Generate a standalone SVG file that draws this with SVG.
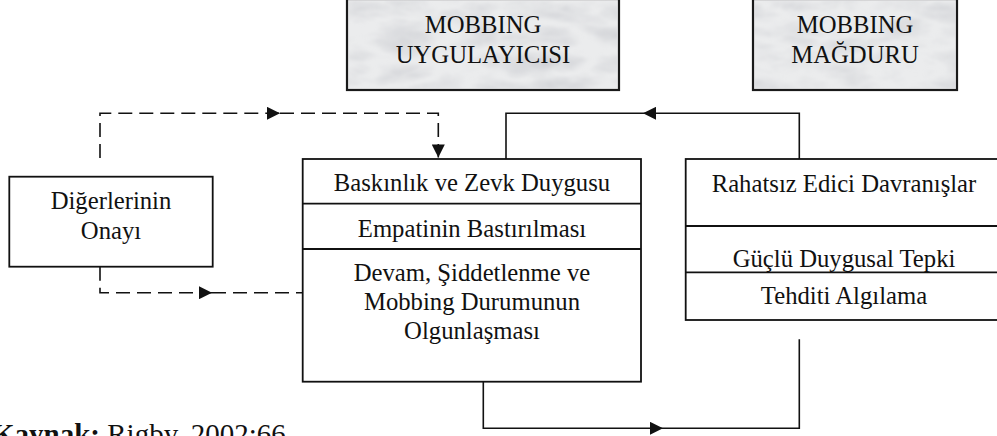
<svg xmlns="http://www.w3.org/2000/svg" width="997" height="436" viewBox="0 0 997 436">
  <style>
    .t { font-family: "Liberation Serif", "Times New Roman", serif; font-size: 24.7px; fill: #111; text-anchor: middle; }
    .box { fill: #fff; stroke: #111; stroke-width: 1.8; }
    .sep { stroke: #111; stroke-width: 1.8; }
    .marble { fill: #ebeced; stroke: #1a1a1a; stroke-width: 2.2; }
    .solid { fill: none; stroke: #111; stroke-width: 1.6; }
    .dash { fill: none; stroke: #111; stroke-width: 1.6; stroke-dasharray: 14 7; }
    .src { font-family: "Liberation Serif", "Times New Roman", serif; font-size: 29px; fill: #111; }
  </style>
  <defs>
    <marker id="arrow" viewBox="0 0 10 10" refX="10" refY="5" markerWidth="14" markerHeight="13" markerUnits="userSpaceOnUse" orient="auto">
      <path d="M0,0 L10,5 L0,10 z" fill="#111"/>
    </marker>
    <!-- soft grey veins for the stone-textured header panels -->
    <filter id="veins" x="0" y="0" width="100%" height="100%">
      <feTurbulence type="turbulence" baseFrequency="0.016 0.04" numOctaves="4" seed="11" result="n"/>
      <feColorMatrix in="n" type="matrix" values="0 0 0 0 0.62  0 0 0 0 0.63  0 0 0 0 0.66  1.3 0 0 0 -0.22"/>
      <feGaussianBlur stdDeviation="0.9"/>
    </filter>
  </defs>

  <!-- header labels -->
  <g id="uygulayici">
    <rect class="marble" x="347" y="-1" width="272" height="91"/>
    <rect x="348.2" y="0" width="269.6" height="88.8" filter="url(#veins)"/>
    <text class="t" x="483" y="33">MOBBING</text>
    <text class="t" x="483" y="63">UYGULAYICISI</text>
  </g>
  <g id="magdur">
    <rect class="marble" x="753" y="-1" width="204" height="91"/>
    <rect x="754.2" y="0" width="201.6" height="88.8" filter="url(#veins)"/>
    <text class="t" x="855" y="33">MOBBING</text>
    <text class="t" x="855" y="63">MAĞDURU</text>
  </g>

  <!-- approval of others -->
  <g id="onay">
    <rect class="box" x="9.3" y="176.7" width="203.4" height="90"/>
    <text class="t" x="111" y="209.3">Diğerlerinin</text>
    <text class="t" x="111" y="239.3">Onayı</text>
  </g>

  <!-- bully process -->
  <g id="uygulayici-sureci">
    <rect class="box" x="302.7" y="159" width="338.3" height="222.7"/>
    <line class="sep" x1="302.7" y1="203.7" x2="641" y2="203.7"/>
    <line class="sep" x1="302.7" y1="249" x2="641" y2="249"/>
    <text class="t" x="472" y="190.7">Baskınlık ve Zevk Duygusu</text>
    <text class="t" x="472" y="236.7">Empatinin Bastırılması</text>
    <text class="t" x="472" y="281">Devam, Şiddetlenme ve</text>
    <text class="t" x="472" y="309.5">Mobbing Durumunun</text>
    <text class="t" x="472" y="339">Olgunlaşması</text>
  </g>

  <!-- victim process -->
  <g id="magdur-sureci">
    <rect class="box" x="685.7" y="159" width="320" height="161"/>
    <line class="sep" x1="685.7" y1="226" x2="1000" y2="226"/>
    <line class="sep" x1="685.7" y1="272.3" x2="1000" y2="272.3"/>
    <text class="t" x="844" y="191.7">Rahatsız Edici Davranışlar</text>
    <text class="t" x="844" y="266.5">Güçlü Duygusal Tepki</text>
    <text class="t" x="844" y="304">Tehditi Algılama</text>
  </g>

  <!-- connectors -->
  <g id="connectors">
    <path class="dash" d="M100,158 V113.3 H280" marker-end="url(#arrow)"/>
    <path class="dash" d="M280,113.3 H438.3 V157.5" marker-end="url(#arrow)"/>
    <path class="dash" d="M100,266.7 V292.7 H212" marker-end="url(#arrow)"/>
    <path class="dash" d="M212,292.7 H302.7"/>
    <path class="solid" d="M799.3,159 V113.3 H643" marker-end="url(#arrow)"/>
    <path class="solid" d="M643,113.3 H506 V159"/>
    <path class="solid" d="M483.3,381.7 V428.3 H663" marker-end="url(#arrow)"/>
    <path class="solid" d="M663,428.3 H799.3 V339.3"/>
  </g>

  <text class="src" x="-8" y="444"><tspan font-weight="bold">Kaynak:</tspan> Rigby, 2002:66</text>
</svg>
